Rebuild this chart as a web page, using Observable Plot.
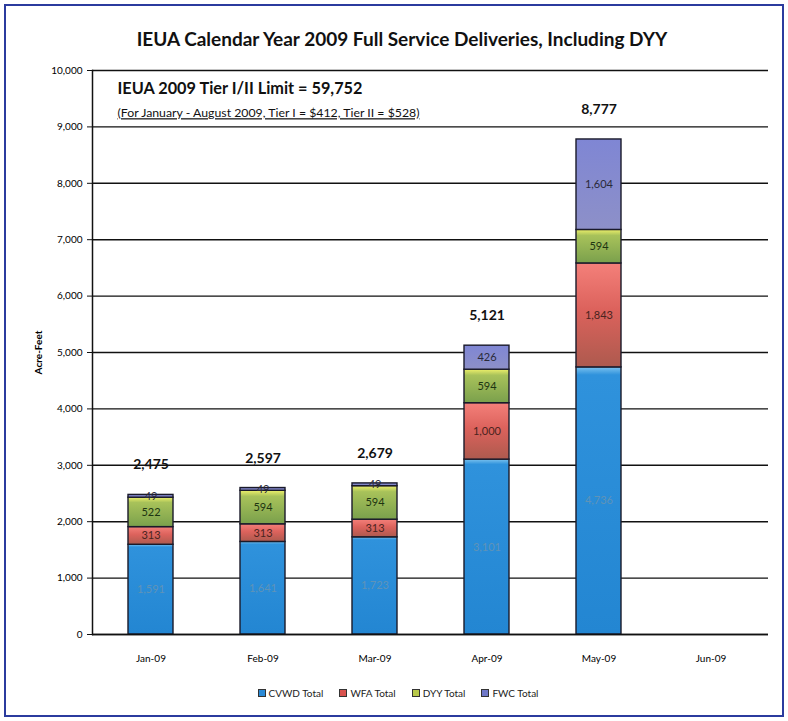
<!DOCTYPE html>
<html>
<head>
<meta charset="utf-8">
<script src="https://cdn.jsdelivr.net/npm/d3@7"></script>
<script src="https://cdn.jsdelivr.net/npm/@observablehq/plot@0.6"></script>
<style>
  html, body { margin: 0; padding: 0; background: #fff; }
  #wrap { position: relative; width: 788px; height: 721px; overflow: hidden; font-family: Lato, "Open Sans", "DejaVu Sans", sans-serif; }
  #border { position: absolute; left: 4px; top: 4px; width: 776px; height: 709px; border: 2px solid #2b3b9e; box-sizing: content-box; }
  #title { position: absolute; left: 0; top: 27px; width: 804px; text-align: center; font-size: 19px; font-weight: bold; color: #111; }
  #chart { position: absolute; left: 0; top: 50px; }
  #legend { position: absolute; left: 0; top: 687px; width: 796px; text-align: center; font-size: 10px; color: #222; }
  #legend span.item { display: inline-block; margin: 0 8px; }
  #legend span.sw { display: inline-block; width: 6px; height: 6px; border: 1px solid #333; margin-right: 3px; vertical-align: 0px; }
</style>
</head>
<body>
<div id="wrap">
  <div id="border"></div>
  <div id="title">IEUA Calendar Year 2009 Full Service Deliveries, Including DYY</div>
  <div id="chart"></div>
  <div id="legend"></div>
</div>
<script>
// ---- data ----
const months = ["Jan-09", "Feb-09", "Mar-09", "Apr-09", "May-09", "Jun-09"];
const seriesNames = ["CVWD Total", "WFA Total", "DYY Total", "FWC Total"];
const cvwd = [1591, 1641, 1723, 3101, 4736, null];
const wfa = [313, 313, 313, 1000, 1843, null];
const dyy = [522, 594, 594, 594, 594, null];
const fwc = [49, 49, 49, 426, 1604, null];
const totals = [2475, 2597, 2679, 5121, 8777, null];
const yTicks = [0, 1000, 2000, 3000, 4000, 5000, 6000, 7000, 8000, 9000, 10000];
const limitNote = "IEUA 2009 Tier I/II Limit = 59,752";
const rateNote = "(For January - August 2009, Tier I = $412, Tier II = $528)";

// ---- styles ----
const barFill = {
  "CVWD Total": "url(#g-cvwd)",
  "WFA Total": "url(#g-wfa)",
  "DYY Total": "url(#g-dyy)",
  "FWC Total": "url(#g-fwc)"
};
const labelFill = {
  "CVWD Total": "#5f93b8",
  "WFA Total": "#4a2420",
  "DYY Total": "#1d3512",
  "FWC Total": "#2a2a3a"
};
const swatch = ["#2b8ad6", "#d9534f", "#b8c94a", "#6f78c8"];

const seriesValues = [cvwd, wfa, dyy, fwc];
const rows = [];
months.forEach((m, i) => {
  seriesNames.forEach((s, j) => {
    const v = seriesValues[j][i];
    if (v != null) rows.push({ month: m, series: s, value: v });
  });
});
const totalRows = months.map((m, i) => ({ month: m, total: totals[i] })).filter(d => d.total != null);
const fmt = d3.format(",");

const plot = Plot.plot({
  width: 788,
  height: 629,
  marginLeft: 92,
  marginRight: 20,
  marginTop: 20,
  marginBottom: 45,
  style: { fontFamily: "Lato, 'Open Sans', sans-serif", background: "transparent" },
  x: { domain: months, paddingInner: 0.6, paddingOuter: 0.3, label: null },
  y: { domain: [0, 10000], label: null },
  color: { type: "identity" },
  marks: [
    Plot.gridY(yTicks, { stroke: "#111", strokeOpacity: 1, strokeWidth: 1.4 }),
    Plot.barY(rows, {
      x: "month", y: "value", z: "series",
      fill: d => barFill[d.series],
      stroke: "#1a1a2a", strokeWidth: 1.4
    }),
    Plot.text(rows, Plot.stackY({
      x: "month", y: "value", z: "series",
      text: d => fmt(d.value),
      fill: d => labelFill[d.series],
      fontSize: 11
    })),
    Plot.text(totalRows, {
      x: "month", y: "total", text: d => fmt(d.total),
      dy: -30, fontSize: 14, fontWeight: "bold", fill: "#111"
    }),
    Plot.text([limitNote], {
      frameAnchor: "top-left", text: d => d, dx: 25, dy: 12,
      fontSize: 16.3, fontWeight: "bold", fill: "#111", textAnchor: "start", lineAnchor: "top"
    }),
    Plot.text([rateNote], {
      frameAnchor: "top-left", text: d => d, dx: 25, dy: 38,
      fontSize: 12.3, fill: "#111", textAnchor: "start", lineAnchor: "top", ariaLabel: "ratenote"
    }),
    Plot.axisY(yTicks, {
      tickFormat: d => fmt(d), tickSize: 5, tickPadding: 5, fontSize: 10,
      label: "Acre-Feet", labelArrow: "none", labelAnchor: "center", labelOffset: 58, stroke: "#111"
    }),
    Plot.axisX({ tickSize: 0, tickPadding: 20, fontSize: 10, label: null }),
    Plot.frame({ anchor: "left", stroke: "#111", strokeWidth: 1.5 }),
    Plot.ruleY([0], { stroke: "#111", strokeWidth: 1.5 })
  ]
});

// gradients
const ns = "http://www.w3.org/2000/svg";
const defs = document.createElementNS(ns, "defs");
const grads = {
  "g-cvwd": [["0%", "#7cc3ef"], ["3%", "#2f92dc"], ["100%", "#2386d2"]],
  "g-wfa": [["0%", "#f4807a"], ["45%", "#dc625c"], ["100%", "#ad5a4e"]],
  "g-dyy": [["0%", "#eef06a"], ["18%", "#a8c25a"], ["100%", "#7aa04c"]],
  "g-fwc": [["0%", "#7f86d4"], ["100%", "#8d90c8"]]
};
for (const [id, stops] of Object.entries(grads)) {
  const g = document.createElementNS(ns, "linearGradient");
  g.setAttribute("id", id);
  g.setAttribute("x1", "0"); g.setAttribute("y1", "0");
  g.setAttribute("x2", "0"); g.setAttribute("y2", "1");
  for (const [o, c] of stops) {
    const s = document.createElementNS(ns, "stop");
    s.setAttribute("offset", o);
    s.setAttribute("stop-color", c);
    g.appendChild(s);
  }
  defs.appendChild(g);
}
plot.insertBefore(defs, plot.firstChild);

document.getElementById("chart").appendChild(plot);

// underline the rate note text
plot.querySelectorAll("text").forEach(t => {
  if (t.textContent === rateNote) t.style.textDecoration = "underline";
});

plot.querySelectorAll('g[aria-label="y-axis label"] text').forEach(t => {
  t.setAttribute("font-weight", "bold");
  t.setAttribute("font-size", "10");
});

// legend
const lg = document.getElementById("legend");
seriesNames.forEach((s, i) => {
  const item = document.createElement("span");
  item.className = "item";
  const sw = document.createElement("span");
  sw.className = "sw";
  sw.style.background = swatch[i];
  item.appendChild(sw);
  item.appendChild(document.createTextNode(s));
  lg.appendChild(item);
});
</script>
</body>
</html>
